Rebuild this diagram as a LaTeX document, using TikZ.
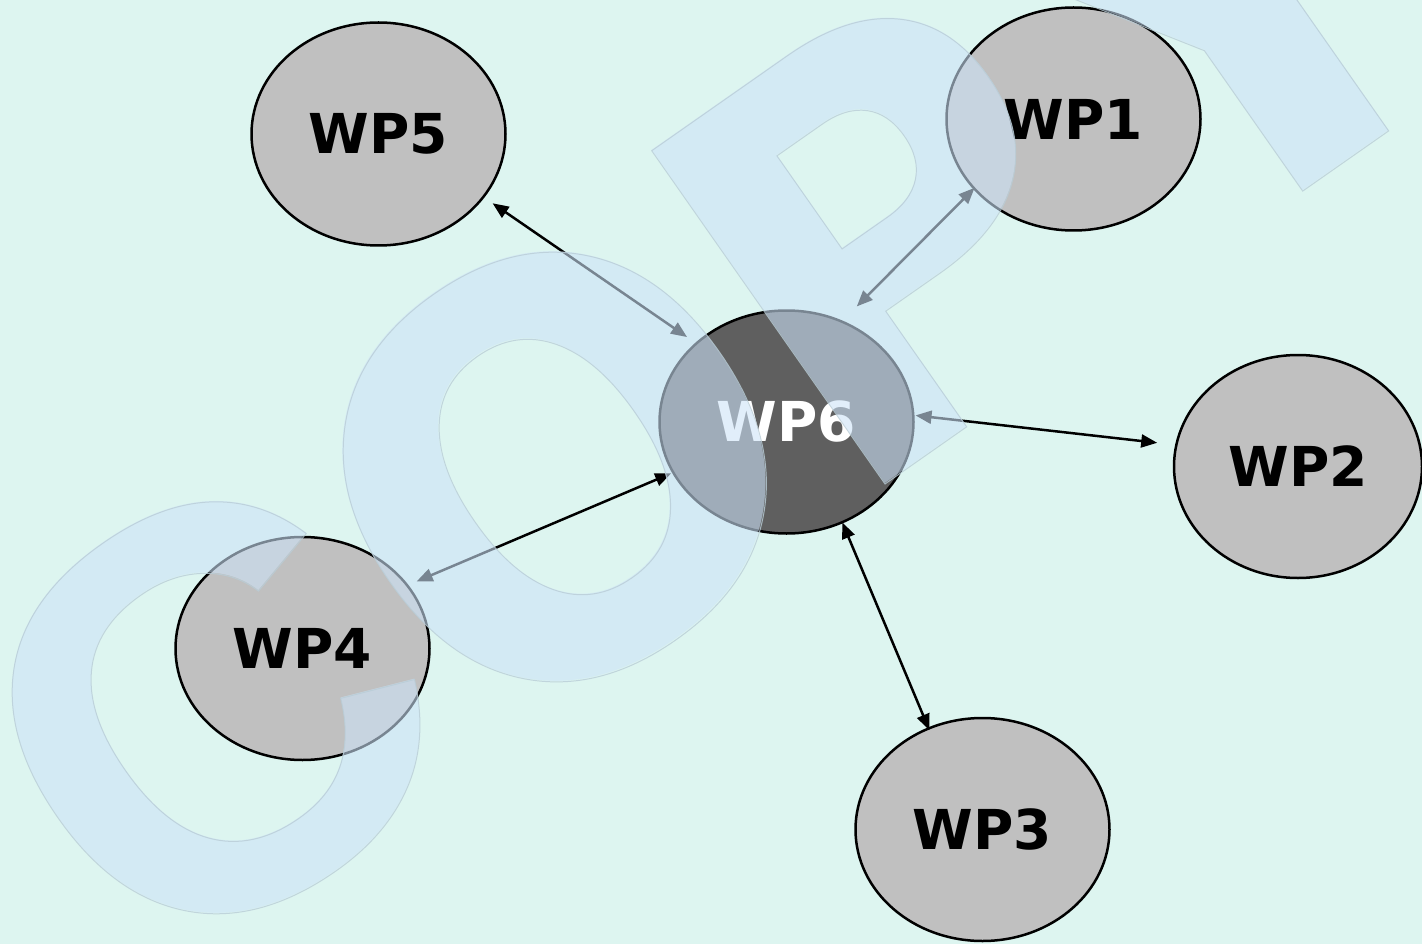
\documentclass[tikz,border=0pt]{standalone}
\usepackage{fontspec}
\setmainfont{DejaVu Sans}
\newfontfamily\wmcfont{Liberation Sans}
\usetikzlibrary{shapes.geometric, arrows.meta}
\definecolor{bg}{RGB}{221,245,240}
\definecolor{nodegray}{RGB}{192,192,192}
\definecolor{darknode}{RGB}{95,95,95}
\definecolor{wmark}{RGB}{205,227,248}
\definecolor{wmline}{RGB}{185,205,215}
\newcommand{\strokedtext}[1]{\special{pdf:literal direct 1 Tr 1 w}#1\special{pdf:literal direct 0 Tr}}
\begin{document}
\begin{tikzpicture}[x=1pt,y=-1pt,
  wp/.style={ellipse, draw=black, line width=2.5pt, fill=nodegray,
    minimum width=254pt, minimum height=223pt, inner sep=0pt,
    font=\fontsize{55}{60}\selectfont\bfseries},
  wpdark/.style={wp, fill=darknode, text=white},
  link/.style={line width=2.5pt,
    {Triangle[length=16pt,width=13pt]}-{Triangle[length=16pt,width=13pt]}},
  wmletter/.style={anchor=base west, inner sep=0pt, rotate=35, text=wmark,
    text opacity=0.59, font=\fontsize{558}{558}\selectfont\bfseries},
  wmoutline/.style={wmletter, text=wmline, text opacity=0.8},
  wmc/.style={font=\fontsize{568}{568}\selectfont\wmcfont\bfseries}]
\useasboundingbox (0,0) rectangle (1422,944);
\clip (0,0) rectangle (1422,944);
\fill[bg] (0,0) rectangle (1422,944);
\node[wp] (wp5) at (378.5,134) {WP5};
\node[wp] (wp1) at (1073.5,119) {WP1};
\node[wpdark] (wp6) at (786.5,422) {WP6};
\node[wp, minimum width=248pt] (wp2) at (1298,466.5) {WP2};
\node[wp] (wp4) at (302.5,648.5) {WP4};
\node[wp] (wp3) at (982.5,829.5) {WP3};
\draw[link, shorten <=10pt, shorten >=10pt] (wp5.-31.2) -- (wp6.139);
\draw[link, shorten <=-2pt, shorten >=20pt] (wp1.215.2) -- (wp6.61.5);
\draw[link, shorten <=1pt, shorten >=18pt] (wp6.3.2) -- (wp2.170.6);
\draw[link, shorten <=-1pt, shorten >=-3pt] (wp6.-61.4) -- (wp3.118.6);
\draw[link, shorten <=1pt, shorten >=9pt] (wp6.204.8) -- (wp4.31.6);
% watermark letters, placed along a baseline rotated by 35 degrees
\node[wmletter, wmc] (wmc) at (152,993) {C};
\node[wmletter, xscale=0.96] (wmo) at (484.7,764.1) {O};
\node[wmletter, xscale=0.95] (wmp) at (845,512) {P};
\node[wmletter] (wmy) at (1180,277) {Y};
\node[wmoutline, wmc] (wmco) at (152,993) {\strokedtext{C}};
\node[wmoutline, xscale=0.96] (wmoo) at (484.7,764.1) {\strokedtext{O}};
\node[wmoutline, xscale=0.95] (wmpo) at (845,512) {\strokedtext{P}};
\node[wmoutline] (wmyo) at (1180,277) {\strokedtext{Y}};
\end{tikzpicture}
\end{document}
